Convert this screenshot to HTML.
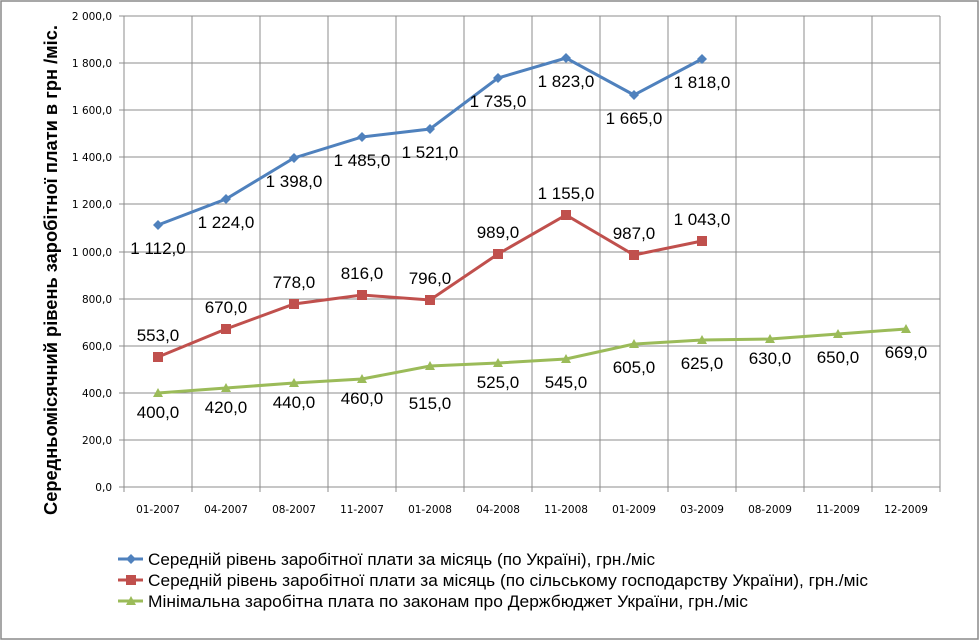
<!DOCTYPE html>
<html><head><meta charset="utf-8"><style>
html,body{margin:0;padding:0;background:#fff}
svg{display:block;font-family:"Liberation Sans","DejaVu Sans",sans-serif}
</style></head><body>
<svg width="980" height="641" viewBox="0 0 980 641">
<rect x="1" y="1" width="977" height="638" fill="#fff" stroke="#8a8a8a" stroke-width="1.5"/>
<g stroke="#8c8c8c" stroke-width="1">
<line x1="124" y1="16" x2="940" y2="16"/>
<line x1="124" y1="63" x2="940" y2="63"/>
<line x1="124" y1="110" x2="940" y2="110"/>
<line x1="124" y1="157" x2="940" y2="157"/>
<line x1="124" y1="204" x2="940" y2="204"/>
<line x1="124" y1="252" x2="940" y2="252"/>
<line x1="124" y1="299" x2="940" y2="299"/>
<line x1="124" y1="346" x2="940" y2="346"/>
<line x1="124" y1="393" x2="940" y2="393"/>
<line x1="124" y1="440" x2="940" y2="440"/>
<line x1="124" y1="487" x2="940" y2="487"/>
<line x1="124" y1="16" x2="124" y2="492"/>
<line x1="192" y1="16" x2="192" y2="492"/>
<line x1="260" y1="16" x2="260" y2="492"/>
<line x1="328" y1="16" x2="328" y2="492"/>
<line x1="396" y1="16" x2="396" y2="492"/>
<line x1="464" y1="16" x2="464" y2="492"/>
<line x1="532" y1="16" x2="532" y2="492"/>
<line x1="600" y1="16" x2="600" y2="492"/>
<line x1="668" y1="16" x2="668" y2="492"/>
<line x1="736" y1="16" x2="736" y2="492"/>
<line x1="804" y1="16" x2="804" y2="492"/>
<line x1="872" y1="16" x2="872" y2="492"/>
<line x1="940" y1="16" x2="940" y2="492"/>
<line x1="119" y1="16" x2="124" y2="16"/><line x1="119" y1="63" x2="124" y2="63"/><line x1="119" y1="110" x2="124" y2="110"/><line x1="119" y1="157" x2="124" y2="157"/><line x1="119" y1="204" x2="124" y2="204"/><line x1="119" y1="252" x2="124" y2="252"/><line x1="119" y1="299" x2="124" y2="299"/><line x1="119" y1="346" x2="124" y2="346"/><line x1="119" y1="393" x2="124" y2="393"/><line x1="119" y1="440" x2="124" y2="440"/><line x1="119" y1="487" x2="124" y2="487"/>
</g>
<g font-size="10.5" fill="#000" text-anchor="end" style="font-family:'DejaVu Sans',sans-serif">
<text x="112" y="20">2 000,0</text><text x="112" y="67">1 800,0</text><text x="112" y="114">1 600,0</text><text x="112" y="161">1 400,0</text><text x="112" y="208">1 200,0</text><text x="112" y="256">1 000,0</text><text x="112" y="303">800,0</text><text x="112" y="350">600,0</text><text x="112" y="397">400,0</text><text x="112" y="444">200,0</text><text x="112" y="491">0,0</text>
</g>
<g font-size="10.5" fill="#000" text-anchor="middle" style="font-family:'DejaVu Sans',sans-serif">
<text x="158" y="513">01-2007</text><text x="226" y="513">04-2007</text><text x="294" y="513">08-2007</text><text x="362" y="513">11-2007</text><text x="430" y="513">01-2008</text><text x="498" y="513">04-2008</text><text x="566" y="513">11-2008</text><text x="634" y="513">01-2009</text><text x="702" y="513">03-2009</text><text x="770" y="513">08-2009</text><text x="838" y="513">11-2009</text><text x="906" y="513">12-2009</text>
</g>
<text transform="translate(57,270) rotate(-90)" font-size="18" font-weight="bold" text-anchor="middle" textLength="490" lengthAdjust="spacingAndGlyphs">Середньомісячний  рівень заробітної плати в грн /міс.</text>
<polyline fill="none" stroke="#9bbb59" stroke-width="3" points="158,393 226,388 294,383 362,379 430,366 498,363 566,359 634,344 702,340 770,339 838,334 906,329"/>
<g fill="#9bbb59">
<polygon points="158,388 163,397 153,397"/><polygon points="226,383 231,392 221,392"/><polygon points="294,378 299,387 289,387"/><polygon points="362,374 367,383 357,383"/><polygon points="430,361 435,370 425,370"/><polygon points="498,358 503,367 493,367"/><polygon points="566,354 571,363 561,363"/><polygon points="634,339 639,348 629,348"/><polygon points="702,335 707,344 697,344"/><polygon points="770,334 775,343 765,343"/><polygon points="838,329 843,338 833,338"/><polygon points="906,324 911,333 901,333"/>
</g>
<polyline fill="none" stroke="#c0504d" stroke-width="3" points="158,357 226,329 294,304 362,295 430,300 498,254 566,215 634,255 702,241"/>
<g fill="#c0504d">
<rect x="153" y="352" width="10" height="10"/><rect x="221" y="324" width="10" height="10"/><rect x="289" y="299" width="10" height="10"/><rect x="357" y="290" width="10" height="10"/><rect x="425" y="295" width="10" height="10"/><rect x="493" y="249" width="10" height="10"/><rect x="561" y="210" width="10" height="10"/><rect x="629" y="250" width="10" height="10"/><rect x="697" y="236" width="10" height="10"/>
</g>
<polyline fill="none" stroke="#4f81bd" stroke-width="3" points="158,225 226,199 294,158 362,137 430,129 498,78 566,58 634,95 702,59"/>
<g fill="#4f81bd">
<polygon points="158,220 163,225 158,230 153,225"/><polygon points="226,194 231,199 226,204 221,199"/><polygon points="294,153 299,158 294,163 289,158"/><polygon points="362,132 367,137 362,142 357,137"/><polygon points="430,124 435,129 430,134 425,129"/><polygon points="498,73 503,78 498,83 493,78"/><polygon points="566,53 571,58 566,63 561,58"/><polygon points="634,90 639,95 634,100 629,95"/><polygon points="702,54 707,59 702,64 697,59"/>
</g>
<g font-size="17" fill="#000" text-anchor="middle">
<text x="158" y="254">1 112,0</text><text x="226" y="228">1 224,0</text><text x="294" y="187">1 398,0</text><text x="362" y="166">1 485,0</text><text x="430" y="158">1 521,0</text><text x="498" y="107">1 735,0</text><text x="566" y="87">1 823,0</text><text x="634" y="124">1 665,0</text><text x="702" y="88">1 818,0</text>
<text x="158" y="341">553,0</text><text x="226" y="313">670,0</text><text x="294" y="288">778,0</text><text x="362" y="279">816,0</text><text x="430" y="284">796,0</text><text x="498" y="238">989,0</text><text x="566" y="199">1 155,0</text><text x="634" y="239">987,0</text><text x="702" y="225">1 043,0</text>
<text x="158" y="418">400,0</text><text x="226" y="413">420,0</text><text x="294" y="408">440,0</text><text x="362" y="404">460,0</text><text x="430" y="409">515,0</text><text x="498" y="388">525,0</text><text x="566" y="388">545,0</text><text x="634" y="373">605,0</text><text x="702" y="369">625,0</text><text x="770" y="364">630,0</text><text x="838" y="363">650,0</text><text x="906" y="358">669,0</text>
</g>
<line x1="118" y1="559" x2="143" y2="559" stroke="#4f81bd" stroke-width="3"/><polygon points="131,554 136,559 131,564 126,559" fill="#4f81bd"/>
<line x1="118" y1="580" x2="143" y2="580" stroke="#c0504d" stroke-width="3"/><rect x="126" y="575" width="10" height="10" fill="#c0504d"/>
<line x1="118" y1="601" x2="143" y2="601" stroke="#9bbb59" stroke-width="3"/><polygon points="131,596 136,605 126,605" fill="#9bbb59"/>
<g font-size="17" fill="#000">
<text x="148" y="565" textLength="507" lengthAdjust="spacingAndGlyphs">Середній рівень заробітної плати за місяць (по Україні), грн./міс</text>
<text x="148" y="586" textLength="720" lengthAdjust="spacingAndGlyphs">Середній рівень заробітної плати за місяць (по сільському господарству  України), грн./міс</text>
<text x="148" y="607" textLength="600" lengthAdjust="spacingAndGlyphs">Мінімальна заробітна плата по законам про Держбюджет України, грн./міс</text>
</g>
</svg>
</body></html>
